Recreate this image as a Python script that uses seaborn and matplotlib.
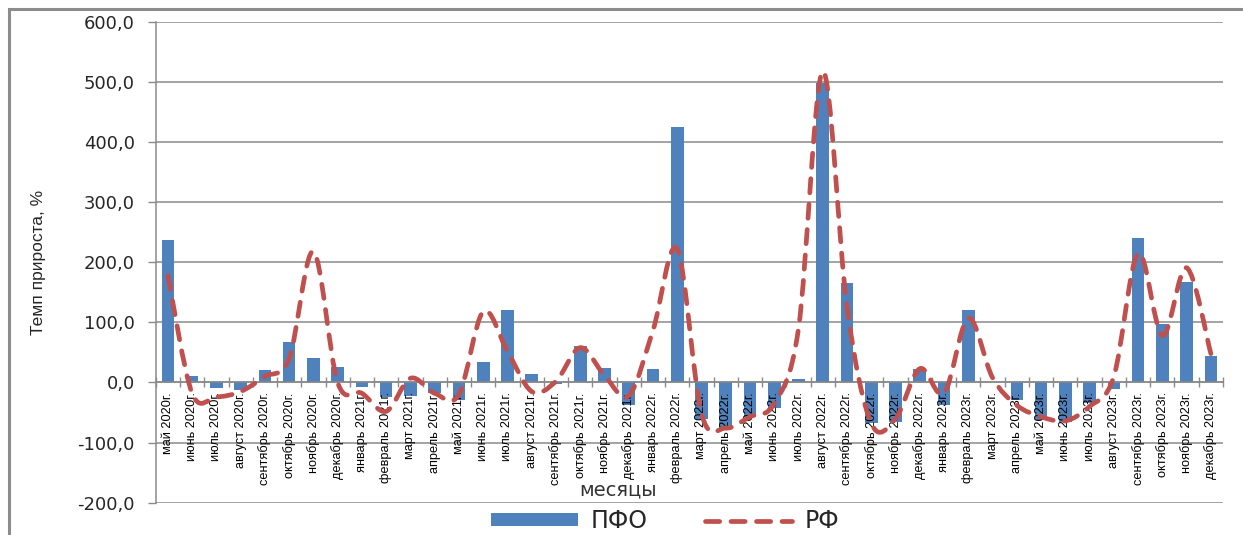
import numpy as np
import pandas as pd
import matplotlib
matplotlib.use("Agg")
import matplotlib.pyplot as plt
import seaborn as sns
from matplotlib.path import Path
from matplotlib.patches import PathPatch, Rectangle, Patch
from matplotlib.lines import Line2D

# Monthly growth rate, %
months = [
    "май 2020г.", "июнь 2020г.", "июль 2020г.", "август 2020г.", "сентябрь 2020г.",
    "октябрь 2020г.", "ноябрь 2020г.", "декабрь 2020г.",
    "январь 2021г.", "февраль 2021г.", "март 2021г.", "апрель 2021г.", "май 2021г.",
    "июнь 2021г.", "июль 2021г.", "август 2021г.", "сентябрь 2021г.", "октябрь 2021г.",
    "ноябрь 2021г.", "декабрь 2021г.",
    "январь 2022г.", "февраль 2022г.", "март 2022г.", "апрель 2022г.", "май 2022г.",
    "июнь 2022г.", "июль 2022г.", "август 2022г.", "сентябрь 2022г.", "октябрь 2022г.",
    "ноябрь 2022г.", "декабрь 2022г.",
    "январь 2023г.", "февраль 2023г.", "март 2023г.", "апрель 2023г.", "май 2023г.",
    "июнь 2023г.", "июль 2023г.", "август 2023г.", "сентябрь 2023г.", "октябрь 2023г.",
    "ноябрь 2023г.", "декабрь 2023г.",
]
pfo = [237, 10, -10, -12, 21, 67, 40, 26,
       -8, -24, -22, -18, -29, 34, 120, 14, -3, 61, 24, -37,
       22, 426, -60, -78, -58, -42, 6, 498, 165, -68, -66, 22,
       -38, 120, 0, -30, -62, -66, -34, -11, 240, 97, 168, 44]
rf = [178, -18, -24, -15, 10, 40, 218, 0,
      -18, -48, 7, -18, -20, 118, 52, -15, 2, 58, 12, -22,
      87, 222, -52, -76, -57, -35, 90, 518, 125, -68, -60, 23,
      -18, 107, 8, -38, -57, -64, -40, 10, 215, 78, 191, 48]
y_ticks = [-200, -100, 0, 100, 200, 300, 400, 500, 600]
y_tick_labels = ["-200,0", "-100,0", "0,0", "100,0", "200,0", "300,0", "400,0", "500,0", "600,0"]

BAR_COLOR = "#4F81BD"
LINE_COLOR = "#C0504D"
GRID_COLOR = "#8A8A8A"

sns.set_theme(style="white")
plt.rcParams["font.family"] = ["Liberation Sans", "DejaVu Sans"]

fig = plt.figure(figsize=(12.43, 5.35), dpi=100)
ax = fig.add_axes([0.1253, 0.0606, 0.9839 - 0.1253, 0.9585 - 0.0606])

# horizontal gridlines behind the bars
for yv in y_ticks:
    ax.axhline(yv, color=GRID_COLOR, lw=1.1, zorder=0.5)

df = pd.DataFrame({"месяц": months, "ПФО": pfo})
sns.barplot(data=df, x="месяц", y="ПФО", color=BAR_COLOR, saturation=1,
            width=0.52, linewidth=0, ax=ax, zorder=2)

# smoothed РФ curve: Catmull-Rom segments through the monthly values
xs = np.arange(len(rf), dtype=float)
ys = np.asarray(rf, dtype=float)
px = np.concatenate([[xs[0]], xs, [xs[-1]]])
py = np.concatenate([[ys[0]], ys, [ys[-1]]])
verts = [(xs[0], ys[0])]
codes = [Path.MOVETO]
for i in range(len(xs) - 1):
    c1 = (px[i + 1] + (px[i + 2] - px[i]) / 6, py[i + 1] + (py[i + 2] - py[i]) / 6)
    c2 = (px[i + 2] - (px[i + 3] - px[i + 1]) / 6, py[i + 2] - (py[i + 3] - py[i + 1]) / 6)
    verts += [c1, c2, (px[i + 2], py[i + 2])]
    codes += [Path.CURVE4] * 3
dash = (0, (3.0, 2.4))
curve = PathPatch(Path(verts, codes), fill=False, edgecolor=LINE_COLOR, lw=3.4,
                  linestyle=dash, capstyle="round", zorder=3)
ax.add_patch(curve)

ax.set_xlim(-0.5, len(months) - 0.5)
ax.set_ylim(-200, 600)
ax.set_yticks(y_ticks, y_tick_labels)
ax.grid(False)
ax.set_axisbelow(False)

ax.set_xticks(np.arange(len(months)), months)
ax.set_xticks(np.arange(len(months) + 1) - 0.5, minor=True)
ax.tick_params(axis="x", which="major", length=0, pad=7, labelrotation=90,
               labelsize=9.2, labelcolor="#000000")
ax.tick_params(axis="x", which="minor", length=7, width=1, color=GRID_COLOR,
               direction="inout", bottom=True)
ax.tick_params(axis="y", which="major", length=6, width=1, color=GRID_COLOR,
               direction="out", left=True, pad=9, labelsize=13, labelcolor="#262626")
for lab in ax.get_yticklabels():
    lab.set_family(["DejaVu Sans"])

for side in ("top", "right"):
    ax.spines[side].set_visible(False)
ax.spines["bottom"].set_position(("data", 0))
ax.spines["bottom"].set_color(GRID_COLOR)
ax.spines["bottom"].set_linewidth(1.1)
ax.spines["left"].set_color(GRID_COLOR)
ax.spines["left"].set_linewidth(1.1)
ax.set_xlabel("")
ax.set_ylabel("")

fig.text(39 / 1243, 1 - 262 / 535, "Темп прироста, %", rotation=90, ha="center",
         va="center", fontsize=12.5, color="#262626")
fig.text(618 / 1243, 1 - 490 / 535, "месяцы", ha="center", va="center",
         fontsize=14, color="#333333", family=["DejaVu Sans"])

handles = [Patch(facecolor=BAR_COLOR, edgecolor="none"),
           Line2D([], [], color=LINE_COLOR, lw=3.4, linestyle=dash,
                  dash_capstyle="round")]
fig.legend(handles, ["ПФО", "РФ"], loc="center", bbox_to_anchor=(0.535, 0.026),
           ncol=2, frameon=False, prop={"family": ["DejaVu Sans"], "size": 17},
           handlelength=3.7, handleheight=0.5, handletextpad=0.5,
           columnspacing=2.45, labelcolor="#262626")

# outer chart frame
fig.add_artist(Rectangle((9 / 1243, -0.05), 1.1, (1 - 9 / 535) + 0.05,
                         transform=fig.transFigure, fill=False,
                         edgecolor="#8C8C8C", lw=2.2, clip_on=False))

fig.savefig("out.png", dpi=100, facecolor="white")
